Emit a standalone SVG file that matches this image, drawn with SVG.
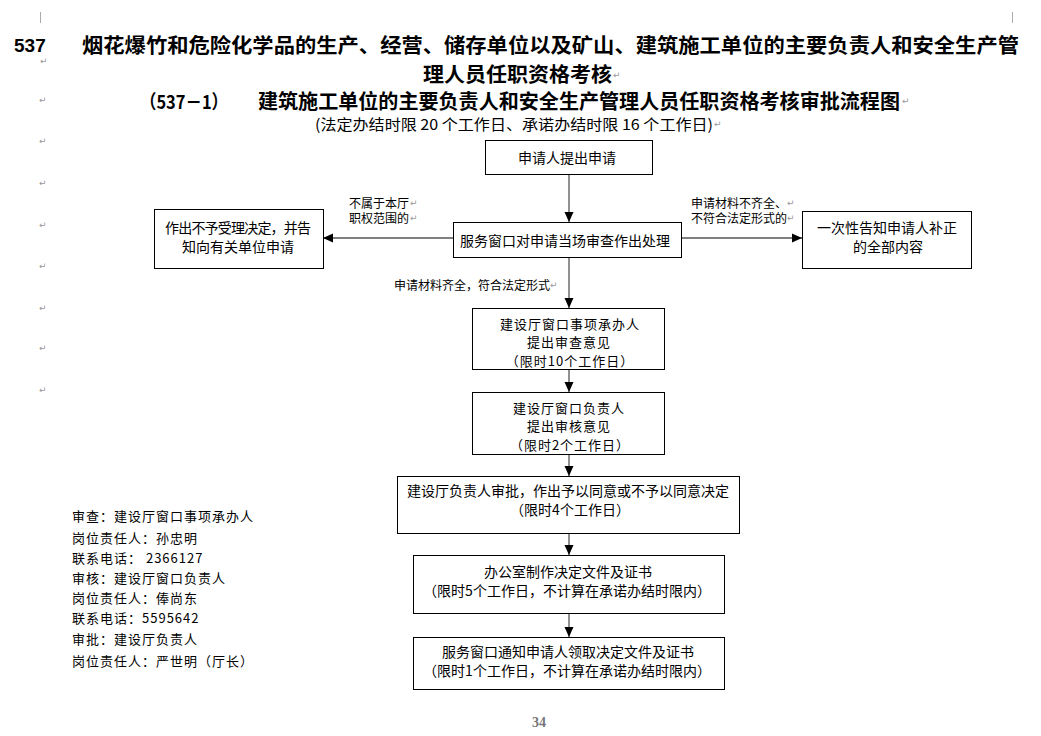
<svg xmlns="http://www.w3.org/2000/svg" width="1041" height="736" viewBox="0 0 1041 736">
<defs>
<style>
.t{font-family:"Noto Sans CJK SC","Liberation Sans",sans-serif;font-size:14px;fill:#000;dominant-baseline:central}
.s{font-size:13px;letter-spacing:1px}
.c{text-anchor:middle}
.lb{font-family:"Noto Sans CJK SC","Liberation Sans",sans-serif;font-size:12px;fill:#000;dominant-baseline:central}
.h{font-family:"Noto Sans CJK SC","Liberation Sans",sans-serif;font-weight:bold;fill:#000;dominant-baseline:central}
.pm{font-family:"DejaVu Sans",sans-serif;font-size:9px;fill:#999;dominant-baseline:central}
.box{fill:#fff;stroke:#000;stroke-width:1}
.con{stroke:#555;stroke-width:1.3;fill:none;marker-end:url(#ah)}
</style>
<marker id="ah" markerUnits="userSpaceOnUse" markerWidth="10" markerHeight="10" viewBox="0 0 10 10" refX="10" refY="5" orient="auto">
<path d="M0,0.5 L10,5 L0,9.5 z" fill="#000"/>
</marker>
</defs>
<rect width="1041" height="736" fill="#fff"/>

<!-- corner marks -->
<line x1="40.5" y1="12" x2="40.5" y2="23" stroke="#aaa"/>
<line x1="1012.5" y1="12" x2="1012.5" y2="23" stroke="#aaa"/>

<!-- titles -->
<g id="title">
<text x="14" y="45" style="font-family:'Liberation Sans',sans-serif;font-weight:bold;font-size:19px;dominant-baseline:central">537</text>
<text class="h" x="82" y="44" font-size="20" textLength="937" lengthAdjust="spacingAndGlyphs">烟花爆竹和危险化学品的生产、经营、储存单位以及矿山、建筑施工单位的主要负责人和安全生产管</text>
<text class="h" x="423" y="73" font-size="20" textLength="189" lengthAdjust="spacingAndGlyphs">理人员任职资格考核</text>
<text class="h" x="140" y="100" font-size="19" textLength="88" lengthAdjust="spacingAndGlyphs">（537－1）</text>
<text class="h" x="258" y="100" font-size="20" textLength="642" lengthAdjust="spacingAndGlyphs">建筑施工单位的主要负责人和安全生产管理人员任职资格考核审批流程图</text>
<text class="t" x="315" y="123" textLength="398" lengthAdjust="spacingAndGlyphs" style="font-size:15px">(法定办结时限 20 个工作日、承诺办结时限 16 个工作日)</text>
</g>

<!-- paragraph marks -->
<g id="marks">
<text class="pm" x="40" y="61">↵</text>
<text class="pm" x="39" y="100">↵</text>
<text class="pm" x="39" y="141">↵</text>
<text class="pm" x="39" y="183">↵</text>
<text class="pm" x="39" y="225">↵</text>
<text class="pm" x="39" y="266">↵</text>
<text class="pm" x="39" y="308">↵</text>
<text class="pm" x="39" y="348">↵</text>
<text class="pm" x="39" y="390">↵</text>
<text class="pm" x="613" y="75">↵</text>
<text class="pm" x="902" y="101">↵</text>
<text class="pm" x="714" y="124">↵</text>
<text class="pm" x="616" y="158">↵</text>
<text class="pm" x="670" y="241">↵</text>
<text class="pm" x="410" y="203">↵</text>
<text class="pm" x="410" y="218">↵</text>
<text class="pm" x="787" y="203">↵</text>
<text class="pm" x="787" y="218">↵</text>
<text class="pm" x="550" y="285">↵</text>
<text class="pm" x="296" y="247">↵</text>
<text class="pm" x="922" y="247">↵</text>
<text class="pm" x="641" y="325">↵</text>
<text class="pm" x="611" y="343">↵</text>
<text class="pm" x="635" y="360">↵</text>
<text class="pm" x="626" y="409">↵</text>
<text class="pm" x="612" y="426">↵</text>
<text class="pm" x="631" y="444">↵</text>
<text class="pm" x="731" y="491">↵</text>
<text class="pm" x="633" y="509">↵</text>
<text class="pm" x="655" y="573">↵</text>
<text class="pm" x="715" y="590">↵</text>
<text class="pm" x="697" y="653">↵</text>
<text class="pm" x="715" y="670">↵</text>
</g>

<!-- connectors -->
<g id="connectors">
<line class="con" x1="569" y1="174" x2="569" y2="222"/>
<line class="con" x1="453" y1="238" x2="323" y2="238"/>
<line class="con" x1="681" y1="238" x2="802" y2="238"/>
<line class="con" x1="569" y1="257" x2="569" y2="308"/>
<line class="con" x1="569" y1="369" x2="569" y2="392"/>
<line class="con" x1="569" y1="454" x2="569" y2="476"/>
<line class="con" x1="569" y1="533" x2="569" y2="555"/>
<line class="con" x1="569" y1="613" x2="569" y2="637"/>
<text class="lb" x="349" y="202">不属于本厅</text>
<text class="lb" x="349" y="217">职权范围的</text>
<text class="lb" x="691" y="202">申请材料不齐全、</text>
<text class="lb" x="691" y="217">不符合法定形式的</text>
<text class="lb" x="394" y="284">申请材料齐全，符合法定形式</text>
</g>

<g id="n1">
<rect class="box" x="485.5" y="140.5" width="167" height="34"/>
<text class="t c" x="567" y="157">申请人提出申请</text>
</g>
<g id="n2">
<rect class="box" x="453.5" y="222.5" width="228" height="35"/>
<text class="t c" x="565" y="240">服务窗口对申请当场审查作出处理</text>
</g>
<g id="n_left">
<rect class="box" x="154.5" y="209.5" width="169" height="59"/>
<text class="t" x="165" y="227" textLength="146" lengthAdjust="spacing">作出不予受理决定，并告</text>
<text class="t" x="182" y="246">知向有关单位申请</text>
</g>
<g id="n_right">
<rect class="box" x="802.5" y="211.5" width="169" height="57"/>
<text class="t" x="817" y="227">一次性告知申请人补正</text>
<text class="t" x="853" y="246">的全部内容</text>
</g>
<g id="n3">
<rect class="box" x="472.5" y="308.5" width="192" height="61"/>
<text class="t s c" x="570" y="323">建设厅窗口事项承办人</text>
<text class="t s c" x="569" y="341.5">提出审查意见</text>
<text class="t s c" x="570" y="360">（限时10个工作日）</text>
</g>
<g id="n4">
<rect class="box" x="472.5" y="392.5" width="192" height="62"/>
<text class="t s c" x="569" y="407">建设厅窗口负责人</text>
<text class="t s c" x="569" y="425.5">提出审核意见</text>
<text class="t s c" x="570" y="444">（限时2个工作日）</text>
</g>
<g id="n5">
<rect class="box" x="397.5" y="476.5" width="342" height="57"/>
<text class="t c" x="568" y="490">建设厅负责人审批，作出予以同意或不予以同意决定</text>
<text class="t c" x="570" y="509">（限时4个工作日）</text>
</g>
<g id="n6">
<rect class="box" x="413.5" y="555.5" width="311" height="58"/>
<text class="t c" x="568" y="571">办公室制作决定文件及证书</text>
<text class="t c" x="567" y="590">（限时5个工作日，不计算在承诺办结时限内）</text>
</g>
<g id="n7">
<rect class="box" x="413.5" y="637.5" width="311" height="52"/>
<text class="t c" x="568" y="651">服务窗口通知申请人领取决定文件及证书</text>
<text class="t c" x="567" y="670">（限时1个工作日，不计算在承诺办结时限内）</text>
</g>

<g id="contacts">
<text class="t s" x="72" y="515">审查：建设厅窗口事项承办人</text>
<text class="t s" x="72" y="537">岗位责任人：孙忠明</text>
<text class="t s" x="72" y="557">联系电话： 2366127</text>
<text class="t s" x="72" y="577">审核：建设厅窗口负责人</text>
<text class="t s" x="72" y="597">岗位责任人：俸尚东</text>
<text class="t s" x="72" y="617">联系电话：5595642</text>
<text class="t s" x="72" y="638">审批：建设厅负责人</text>
<text class="t s" x="72" y="660">岗位责任人：严世明（厅长）</text>
</g>

<text x="539" y="722" text-anchor="middle" style="font-family:'Liberation Serif',serif;font-weight:bold;font-size:14px;fill:#777;dominant-baseline:central">34</text>
</svg>
